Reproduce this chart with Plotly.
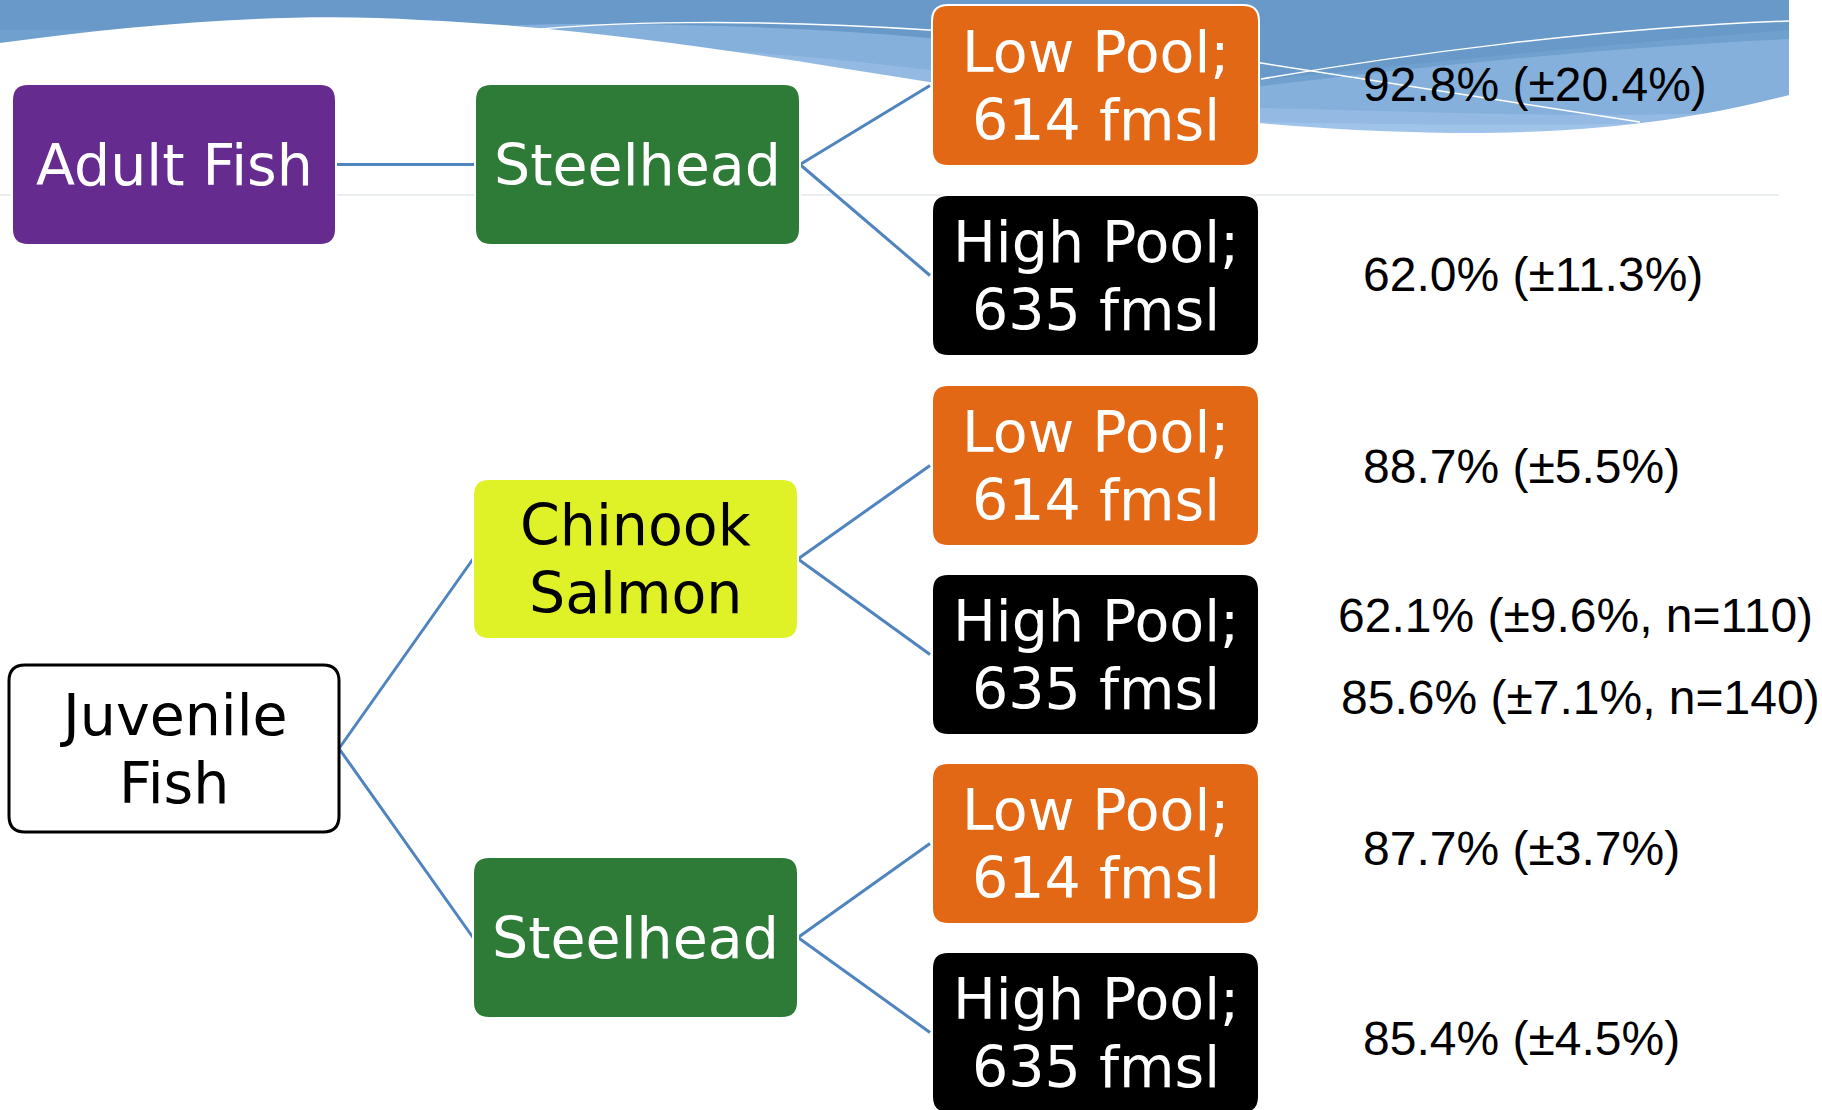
import plotly.graph_objects as go

# ---- tree content -------------------------------------------------------
root_labels = ["Adult Fish", "Juvenile<br>Fish"]
species_labels = ["Steelhead", "Chinook<br>Salmon", "Steelhead"]
species_parent = [0, 1, 1]
pool_labels = ["Low Pool;<br>614 fmsl", "High Pool;<br>635 fmsl"] * 3
pool_parent = [0, 0, 1, 1, 2, 2]

# survival estimates per pool condition (percent, 95% CI half-width, sample size)
surv_pct = [92.8, 62.0, 88.7, 62.1, 85.6, 87.7, 85.4]
surv_ci = [20.4, 11.3, 5.5, 9.6, 7.1, 3.7, 4.5]
surv_n = [None, None, None, 110, 140, None, None]

# ---- layout (pixel space, y grows downward) ----------------------------
W, H = 1822, 1110
root_boxes = [(12, 84, 336, 245), (9, 665, 339, 832)]
root_fill = ["#652b8f", "#ffffff"]
root_text = ["#ffffff", "#000000"]
root_line = ["#ffffff", "#000000"]

species_boxes = [(475, 84, 800, 245), (473, 479, 798, 639), (473, 857, 798, 1018)]
species_fill = ["#2e7b37", "#dff227", "#2e7b37"]
species_text = ["#ffffff", "#000000", "#ffffff"]

pool_x0, pool_x1, pool_h = 932, 1259, 161
pool_tops = [5, 195, 385, 574, 763, 952]
pool_fill = ["#e26816", "#000000"] * 3

label_x = [1361, 1361, 1361, 1336, 1339, 1361, 1361]
label_y = [84, 274, 466, 615, 697, 848, 1038]

BOX_FONT = "'DejaVu Sans', sans-serif"
BOX_SIZE = 57
LINE_GAP = 68
CONNECTOR = "#4f84bf"


def rrect(x0, y0, x1, y1, r=16):
    return (f"M{x0+r},{y0} L{x1-r},{y0} Q{x1},{y0} {x1},{y0+r} "
            f"L{x1},{y1-r} Q{x1},{y1} {x1-r},{y1} L{x0+r},{y1} "
            f"Q{x0},{y1} {x0},{y1-r} L{x0},{y0+r} Q{x0},{y0} {x0+r},{y0} Z")


shapes = []
annotations = []

# ---- decorative wave banner across the top ------------------------------
shapes.append(dict(type="path", layer="below", line_width=0, fillcolor="#6899c8",
                   path="M0,0 L1789,0 L1789,140 L0,140 Z"))
shapes.append(dict(type="path", layer="below", line_width=0, fillcolor="#6fa0ce",
                   path="M0,30 C300,30 600,30 900,45 L1261,80 C1450,60 1600,45 1789,30 L1789,140 L0,140 Z"))
shapes.append(dict(type="path", layer="below", line_width=0, fillcolor="#86b0dc",
                   path="M470,27 C600,20 800,26 929,38 L1261,86 C1450,64 1600,48 1789,39 L1789,140 L470,140 Z"))
shapes.append(dict(type="path", layer="below", line_width=0, fillcolor="#94bae4",
                   path="M600,45 C750,50 850,60 929,70 L1261,108 C1450,112 1600,120 1789,110 L1789,140 L600,140 Z"))
shapes.append(dict(type="path", layer="below", line_width=0, fillcolor="#a0c3ea",
                   path="M1261,122 C1400,124 1550,128 1789,120 L1789,140 L1261,140 Z"))
# white ground below the wave
shapes.append(dict(type="path", layer="below", line_width=0, fillcolor="#ffffff",
                   path=("M0,43 C150,22 300,12 420,20 C600,28 760,55 929,82 "
                         "C1100,105 1250,130 1450,133 C1600,134 1700,118 1789,95 "
                         "L1789,0 L1822,0 L1822,320 L0,320 Z")))
# fine white strands in the wave
shapes.append(dict(type="path", layer="below", line=dict(color="#ffffff", width=1.5),
                   path="M522,31 C600,22 750,18 929,30 C1050,38 1200,55 1261,63 L1640,122"))
shapes.append(dict(type="path", layer="below", line=dict(color="#ffffff", width=1.5),
                   path="M1261,79 C1400,55 1600,28 1789,21"))
# faint rule under the banner
shapes.append(dict(type="line", layer="below", x0=0, x1=1779, y0=195, y1=195,
                   line=dict(color="#e3e8ee", width=1.5)))


def mid_y(b):
    return (b[1] + b[3]) / 2


# ---- connectors ---------------------------------------------------------
for i, p in enumerate(species_parent):
    pb, cb = root_boxes[p], species_boxes[i]
    shapes.append(dict(type="line", x0=pb[2], y0=mid_y(pb), x1=cb[0], y1=mid_y(cb),
                       line=dict(color=CONNECTOR, width=3)))
pool_boxes = [(pool_x0, t, pool_x1, t + pool_h) for t in pool_tops]
for i, p in enumerate(pool_parent):
    pb, cb = species_boxes[p], pool_boxes[i]
    shapes.append(dict(type="line", x0=pb[2], y0=mid_y(pb), x1=cb[0] - 2, y1=mid_y(cb),
                       line=dict(color=CONNECTOR, width=3)))


def add_box(box, fill, edge, edge_w, text, color):
    shapes.append(dict(type="path", path=rrect(*box), fillcolor=fill,
                       line=dict(color=edge, width=edge_w)))
    lines = text.split("<br>")
    cx, cy = (box[0] + box[2]) / 2, mid_y(box)
    start = cy - LINE_GAP * (len(lines) - 1) / 2
    for k, ln in enumerate(lines):
        annotations.append(dict(x=cx, y=start + k * LINE_GAP, text=ln, showarrow=False,
                                xanchor="center", yanchor="middle",
                                font=dict(family=BOX_FONT, size=BOX_SIZE, color=color)))


for b, f, e, t, c in zip(root_boxes, root_fill, root_line, root_labels, root_text):
    add_box(b, f, e, 3 if e == "#000000" else 2, t, c)
for b, f, t, c in zip(species_boxes, species_fill, species_labels, species_text):
    add_box(b, f, "#ffffff", 2, t, c)
for b, f, t in zip(pool_boxes, pool_fill, pool_labels):
    add_box(b, f, "#ffffff", 2, t, "#ffffff")

# ---- survival estimates -------------------------------------------------
for p, ci, n, x, y in zip(surv_pct, surv_ci, surv_n, label_x, label_y):
    txt = f"{p:.1f}% (±{ci:.1f}%" + (f", n={n}" if n else "") + ")"
    annotations.append(dict(x=x, y=y, text=txt, showarrow=False, xanchor="left",
                            yanchor="middle",
                            font=dict(family="Liberation Sans, Arial, sans-serif",
                                      size=48, color="#000000")))

fig = go.Figure(go.Scatter(x=[0, W], y=[0, H], mode="markers",
                           marker=dict(opacity=0), hoverinfo="skip"))
fig.update_layout(
    width=W, height=H, margin=dict(l=0, r=0, t=0, b=0),
    paper_bgcolor="#ffffff", plot_bgcolor="#ffffff", showlegend=False,
    xaxis=dict(range=[0, W], visible=False, fixedrange=True),
    yaxis=dict(range=[H, 0], visible=False, fixedrange=True),
    shapes=shapes, annotations=annotations,
)
fig.write_html("out.html")
